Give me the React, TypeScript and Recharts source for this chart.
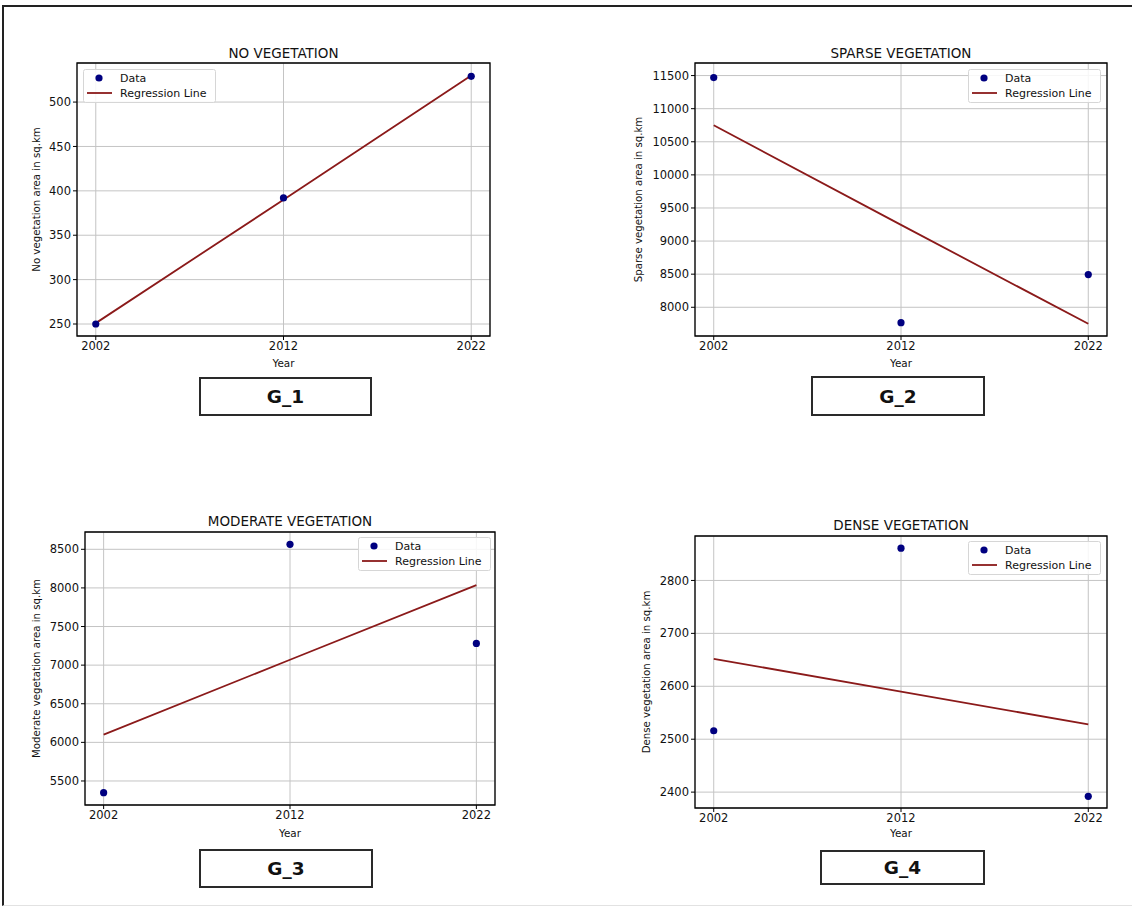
import React from 'react';
import {
  ComposedChart,
  Scatter,
  Line,
  XAxis,
  YAxis,
  CartesianGrid,
  Legend,
  ReferenceArea
} from 'recharts';

// values
const years = [2002, 2012, 2022];
const yearTicks = [2002, 2012, 2022];

const noVegArea = [250, 392, 529];
const noVegFit = [251, 390, 530];
const noVegTicks = [250, 300, 350, 400, 450, 500];

const sparseArea = [11470, 7768, 8494];
const sparseFit = [10750, 9245, 7750];
const sparseTicks = [8000, 8500, 9000, 9500, 10000, 10500, 11000, 11500];

const moderateArea = [5349, 8565, 7281];
const moderateFit = [6100, 7070, 8035];
const moderateTicks = [5500, 6000, 6500, 7000, 7500, 8000, 8500];

const denseArea = [2516, 2861, 2392];
const denseFit = [2652, 2590, 2528];
const denseTicks = [2400, 2500, 2600, 2700, 2800];

const seriesNames = ['Data', 'Regression Line'];

const FONT = '"DejaVu Sans", Verdana, sans-serif';
const DOT_COLOR = '#000080';
const LINE_COLOR = '#8b1a1a';

const toRows = (area: number[], fit: number[]) =>
  years.map((year, i) => ({ year, area: area[i], fit: fit[i] }));

const LegendBox = () => (
  <svg width={133} height={34} style={{ display: 'block' }}>
    <rect x={0.5} y={0.5} width={132} height={33} rx={2} fill="#fff" fillOpacity={0.85} stroke="#d6d6d6" />
    <circle cx={16} cy={9} r={3.6} fill={DOT_COLOR} />
    <text x={37} y={9} dy="0.35em" fontSize={11} fontFamily={FONT} fill="#111">{seriesNames[0]}</text>
    <line x1={4} x2={29} y1={24} y2={24} stroke={LINE_COLOR} strokeWidth={1.8} />
    <text x={37} y={24} dy="0.35em" fontSize={11} fontFamily={FONT} fill="#111">{seriesNames[1]}</text>
  </svg>
);

const Dot = (props: any) => <circle cx={props.cx} cy={props.cy} r={3.6} fill={DOT_COLOR} />;

interface PanelProps {
  title: string;
  yLabel: string;
  area: number[];
  fit: number[];
  ticks: number[];
  domain: [number, number];
  left: number;
  top: number;
  width: number;
  height: number;
  marginTop: number;
  yWidth: number;
  xHeight: number;
  yLabelX: number;
  legendLeft: number;
  legendTop: number;
  titleTop: number;
}

const Panel = (p: PanelProps) => {
  const data = toRows(p.area, p.fit);
  const plotLeft = p.yWidth;
  const plotWidth = p.width - p.yWidth - 10;
  return (
    <div style={{ position: 'absolute', left: p.left, top: p.top, width: p.width, height: p.height }}>
      <div
        style={{
          position: 'absolute',
          left: plotLeft,
          width: plotWidth,
          top: p.titleTop,
          textAlign: 'center',
          fontSize: 13.5,
          fontFamily: FONT,
          lineHeight: '16px',
          color: '#111'
        }}
      >
        {p.title}
      </div>
      <ComposedChart
        width={p.width}
        height={p.height}
        data={data}
        margin={{ top: p.marginTop, right: 10, bottom: 0, left: 0 }}
        style={{ fontFamily: FONT }}
      >
        <CartesianGrid stroke="#c4c4c4" strokeWidth={1} />
        <XAxis
          dataKey="year"
          type="number"
          domain={[2001, 2023]}
          ticks={yearTicks}
          height={p.xHeight}
          axisLine={false}
          tickLine={{ stroke: '#000' }}
          tickSize={4}
          tick={{ fill: '#111', fontSize: 11.5 }}
          label={{ value: 'Year', position: 'insideBottom', offset: 3, fill: '#111', fontSize: 10.4 }}
        />
        <YAxis
          type="number"
          domain={p.domain}
          ticks={p.ticks}
          width={p.yWidth}
          allowDataOverflow
          axisLine={false}
          tickLine={{ stroke: '#000' }}
          tickSize={4}
          tick={{ fill: '#111', fontSize: 11.5 }}
          label={{
            value: p.yLabel,
            angle: -90,
            position: 'insideLeft',
            offset: p.yLabelX,
            fill: '#111',
            fontSize: 10.2,
            style: { textAnchor: 'middle' }
          }}
        />
        <Line
          dataKey="fit"
          name={seriesNames[1]}
          type="linear"
          stroke={LINE_COLOR}
          strokeWidth={1.8}
          dot={false}
          activeDot={false}
          isAnimationActive={false}
        />
        <Scatter dataKey="area" name={seriesNames[0]} fill={DOT_COLOR} shape={Dot} isAnimationActive={false} />
        <ReferenceArea
          x1={2001}
          x2={2023}
          y1={p.domain[0]}
          y2={p.domain[1]}
          fill="none"
          stroke="#000"
          strokeWidth={1.3}
          ifOverflow="visible"
        />
        <Legend
          layout="vertical"
          align="center"
          verticalAlign="middle"
          content={() => <LegendBox />}
          wrapperStyle={{ left: p.legendLeft, top: p.legendTop, width: 133, height: 34 }}
        />
      </ComposedChart>
    </div>
  );
};

const GBox = ({ label, left, top, width, height }: { label: string; left: number; top: number; width: number; height: number }) => (
  <div
    style={{
      position: 'absolute',
      left,
      top,
      width,
      height,
      boxSizing: 'border-box',
      border: '2px solid #2a2a2a',
      display: 'flex',
      alignItems: 'center',
      justifyContent: 'center',
      fontFamily: FONT,
      fontWeight: 'bold',
      fontSize: 18.5,
      color: '#111'
    }}
  >
    {label}
  </div>
);

export default function App() {
  return (
    <div style={{ position: 'absolute', left: 0, top: 0, width: 1132, height: 906, background: '#fff', overflow: 'hidden' }}>
      <div
        style={{
          position: 'absolute',
          left: 2,
          top: 5,
          width: 1132,
          height: 898,
          borderTop: '2px solid #222',
          borderLeft: '2px solid #222',
          borderBottom: '1px solid #e2e2e2'
        }}
      />
      <Panel
        title="NO VEGETATION"
        yLabel="No vegetation area in sq.km"
        area={noVegArea}
        fit={noVegFit}
        ticks={noVegTicks}
        domain={[236.5, 544]}
        left={20}
        top={40}
        width={480}
        height={330}
        marginTop={23}
        yWidth={57}
        xHeight={34}
        yLabelX={16}
        legendLeft={63}
        legendTop={29}
        titleTop={5}
      />
      <Panel
        title="SPARSE VEGETATION"
        yLabel="Sparse vegetation area in sq.km"
        area={sparseArea}
        fit={sparseFit}
        ticks={sparseTicks}
        domain={[7566, 11690]}
        left={620}
        top={40}
        width={497}
        height={330}
        marginTop={23}
        yWidth={75}
        xHeight={34}
        yLabelX={18}
        legendLeft={348}
        legendTop={29}
        titleTop={5}
      />
      <Panel
        title="MODERATE VEGETATION"
        yLabel="Moderate vegetation area in sq.km"
        area={moderateArea}
        fit={moderateFit}
        ticks={moderateTicks}
        domain={[5189, 8724]}
        left={20}
        top={510}
        width={485}
        height={330}
        marginTop={22}
        yWidth={65}
        xHeight={35}
        yLabelX={16}
        legendLeft={338}
        legendTop={27}
        titleTop={3}
      />
      <Panel
        title="DENSE VEGETATION"
        yLabel="Dense vegetation area in sq.km"
        area={denseArea}
        fit={denseFit}
        ticks={denseTicks}
        domain={[2370, 2884]}
        left={620}
        top={510}
        width={497}
        height={330}
        marginTop={26}
        yWidth={75}
        xHeight={32}
        yLabelX={26}
        legendLeft={348}
        legendTop={31}
        titleTop={7}
      />
      <GBox label="G_1" left={199} top={377} width={173} height={39} />
      <GBox label="G_2" left={811} top={376} width={174} height={40} />
      <GBox label="G_3" left={199} top={849} width={174} height={39} />
      <GBox label="G_4" left={820} top={850} width={165} height={35} />
    </div>
  );
}
